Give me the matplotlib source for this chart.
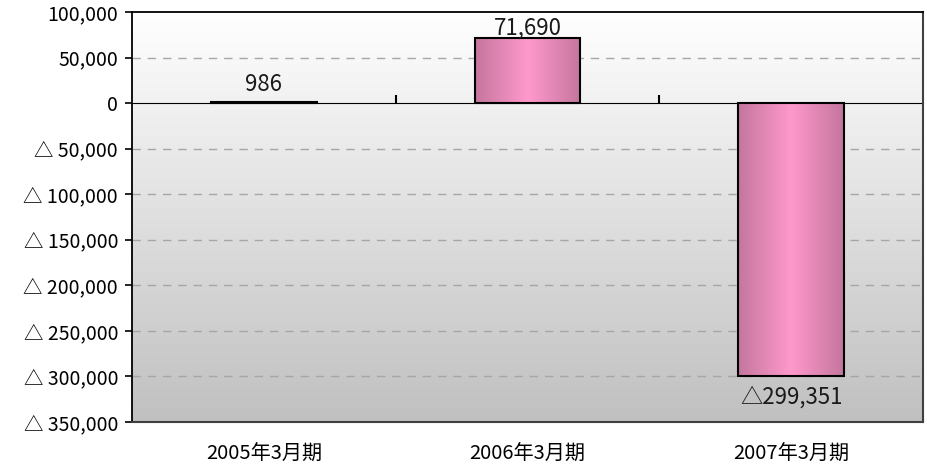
import matplotlib
matplotlib.use("Agg")
import matplotlib.pyplot as plt
import numpy as np
from matplotlib.colors import LinearSegmentedColormap
from matplotlib.ticker import FuncFormatter

plt.rcParams['font.family'] = ['Noto Sans CJK JP', 'DejaVu Sans']

periods = ["2005年3月期", "2006年3月期", "2007年3月期"]
values = [986, 71690, -299351]
y_ticks = [100000, 50000, 0, -50000, -100000, -150000, -200000, -250000, -300000, -350000]


def fmt(v, pos=None):
    if v < 0:
        return f"△ {abs(v):,.0f}"
    return f"{v:,.0f}"


def label_fmt(v):
    return f"△{abs(v):,.0f}" if v < 0 else f"{v:,.0f}"


fig = plt.figure(figsize=(9.28, 4.65), dpi=100)
ax = fig.add_axes([0.1422, 0.0925, 0.8524, 0.8817])

x = np.arange(len(periods))
ymin, ymax = min(y_ticks), max(y_ticks)

# plot area background: white at top fading to grey at bottom
bg = LinearSegmentedColormap.from_list("bg", ["#c0c0c0", "#ffffff"])
grad = np.linspace(0, 1, 256).reshape(-1, 1)
ax.imshow(grad, cmap=bg, origin="lower", aspect="auto", extent=[0, 1, 0, 1],
          transform=ax.transAxes, zorder=0)

# dashed grid
for t in y_ticks:
    if t not in (0, ymax):
        ax.axhline(t, color="#a6a6a6", lw=1, dashes=(6, 5), zorder=1)

bars = ax.bar(x, values, width=0.4, facecolor="none", edgecolor="black",
              linewidth=1.5, zorder=3)

# horizontal pink shading inside each bar
pink = LinearSegmentedColormap.from_list("pink", ["#c4769e", "#ff99cc", "#c4769e"])
hgrad = np.linspace(0, 1, 256).reshape(1, -1)
for b in bars:
    x0, w = b.get_x(), b.get_width()
    y0, h = b.get_y(), b.get_height()
    ax.imshow(hgrad, cmap=pink, aspect="auto",
              extent=[x0, x0 + w, min(y0, y0 + h), max(y0, y0 + h)], zorder=2)

for xi, v in zip(x, values):
    if v >= 0:
        dy = 7 if v > 10000 else 13
    else:
        dy = -15
    ax.annotate(label_fmt(v), (xi, v), xytext=(0, dy),
                textcoords="offset points", ha="center", va="center",
                fontsize=16, color="#1a1a1a", zorder=4)

ax.set_xlim(-0.5, len(periods) - 0.5)
ax.set_ylim(ymin, ymax)

ax.set_yticks(y_ticks)
ax.yaxis.set_major_formatter(FuncFormatter(fmt))
ax.tick_params(axis="y", direction="out", length=5, width=1.2, labelsize=14,
               pad=5, colors="black")
ax.set_xticks(x)
ax.set_xticklabels(periods)
ax.tick_params(axis="x", length=0, labelsize=14.5, pad=16)

# category axis crossing at zero, with ticks between categories
zero_pos = (0 - ymin) / (ymax - ymin)
zx = ax.secondary_xaxis(zero_pos)
zx.set_xticks(x[:-1] + 0.5)
zx.set_xticklabels([])
zx.tick_params(direction="out", length=6, width=1.5)
zx.spines["bottom"].set_linewidth(1.5)
zx.spines["bottom"].set_color("black")

for side in ("top", "left"):
    ax.spines[side].set_color("black")
    ax.spines[side].set_linewidth(1.3)
for side in ("right", "bottom"):
    ax.spines[side].set_color("#404040")
    ax.spines[side].set_linewidth(1.5)

fig.savefig("out.png", dpi=100)
